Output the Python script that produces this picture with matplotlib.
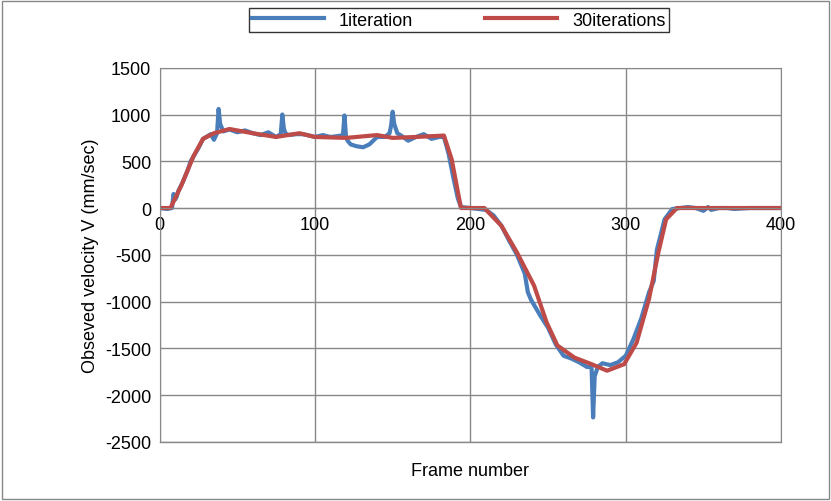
import matplotlib
matplotlib.use("Agg")
import matplotlib.pyplot as plt
from matplotlib.patches import Rectangle

frames_1 = [0, 5, 8, 9, 10, 11, 12, 15, 18, 20, 25, 28, 30, 33, 35, 37, 38, 39, 41, 45,
            50, 55, 60, 65, 70, 75, 78, 79, 80, 81, 83, 88, 92, 95, 100, 105, 110, 115, 118, 119,
            120, 121, 123, 127, 131, 135, 140, 145, 148, 149, 150, 151, 153, 155, 160, 165, 170, 175, 180, 183,
            186, 189, 192, 194, 200, 205, 210, 215, 220, 225, 230, 235, 237, 239, 245, 250, 255, 260, 265, 270,
            275, 278, 279, 280, 282, 285, 290, 295, 300, 305, 310, 315, 318, 320, 325, 330, 335, 340, 345, 350,
            353, 355, 360, 365, 370, 380, 390, 400]
iter_1 = [0, -10, 0, 150, 90, 120, 180, 280, 400, 500, 640, 740, 760, 790, 730, 800, 1060, 900, 820, 840,
          810, 830, 800, 780, 810, 760, 790, 1000, 850, 800, 780, 790, 790, 780, 760, 780, 760, 770, 780, 990,
          760, 720, 680, 660, 650, 680, 760, 760, 800, 880, 1030, 900, 800, 780, 720, 760, 790, 740, 760, 760,
          580, 330, 100, 10, 0, -10, -20, -80, -190, -350, -500, -700, -900, -980, -1150, -1280, -1460, -1580, -1610, -1650,
          -1700, -1700, -2240, -1800, -1700, -1660, -1680, -1650, -1580, -1400, -1180, -900, -780, -450, -120, -10, 0, 10, 0, -30,
          10, -20, 0, 0, -10, 0, 0, 0]

frames_30 = [0, 7, 14, 22, 28, 35, 45, 60, 75, 90, 100, 120, 140, 150, 165, 183, 188, 192, 194, 209,
             220, 230, 241, 249, 256, 267, 278, 288, 299, 307, 315, 321, 326, 333, 345, 360, 380, 400]
iter_30 = [0, 0, 240, 560, 740, 800, 845, 800, 760, 800, 760, 750, 780, 750, 760, 775, 520, 170, 0, 0,
           -190, -475, -830, -1220, -1470, -1600, -1670, -1740, -1670, -1440, -970, -475, -120, 0, 0, 0, 0, 0]

x_ticks = [0, 100, 200, 300, 400]
y_ticks = [-2500, -2000, -1500, -1000, -500, 0, 500, 1000, 1500]

plt.rcParams['font.family'] = ['Liberation Sans', 'DejaVu Sans']
plt.rcParams['axes.unicode_minus'] = False
fig = plt.figure(figsize=(8.31, 5.02), dpi=100)
fig.patches.append(Rectangle((0.003, 0.004), 0.994, 0.992, transform=fig.transFigure,
                             fill=False, edgecolor='#888888', linewidth=1))
ax = fig.add_axes([0.192, 0.118, 0.748, 0.745])

ax.plot(frames_1, iter_1, color='#4a7ebb', linewidth=3, label='1iteration')
ax.plot(frames_30, iter_30, color='#be4b48', linewidth=3, label='30iterations')

ax.set_xlim(0, 400)
ax.set_ylim(-2500, 1500)
ax.set_xticks(x_ticks)
ax.set_yticks(y_ticks)
ax.grid(True, color='#888888', linewidth=1)
ax.set_axisbelow(True)
for s in ['top', 'right', 'left']:
    ax.spines[s].set_color('#888888')
ax.spines['bottom'].set_position(('data', 0))
ax.spines['bottom'].set_color('#888888')
ax.plot([0, 400], [-2500, -2500], color='#888888', linewidth=1, clip_on=False)
ax.tick_params(length=0, labelsize=13, pad=6)
ax.set_xlabel('Frame number', fontsize=13)
ax.xaxis.set_label_coords(0.5, -0.055)
ax.set_ylabel('Obseved velocity V (mm/sec)', fontsize=13)

leg = fig.legend(loc='upper center', bbox_to_anchor=(0.552, 0.993), ncol=2, fontsize=13,
                 frameon=True, fancybox=False, edgecolor='black', handlelength=4,
                 columnspacing=4, borderpad=0.2, borderaxespad=0.3)
leg.get_frame().set_linewidth(1)

fig.savefig('out.png', dpi=100)
